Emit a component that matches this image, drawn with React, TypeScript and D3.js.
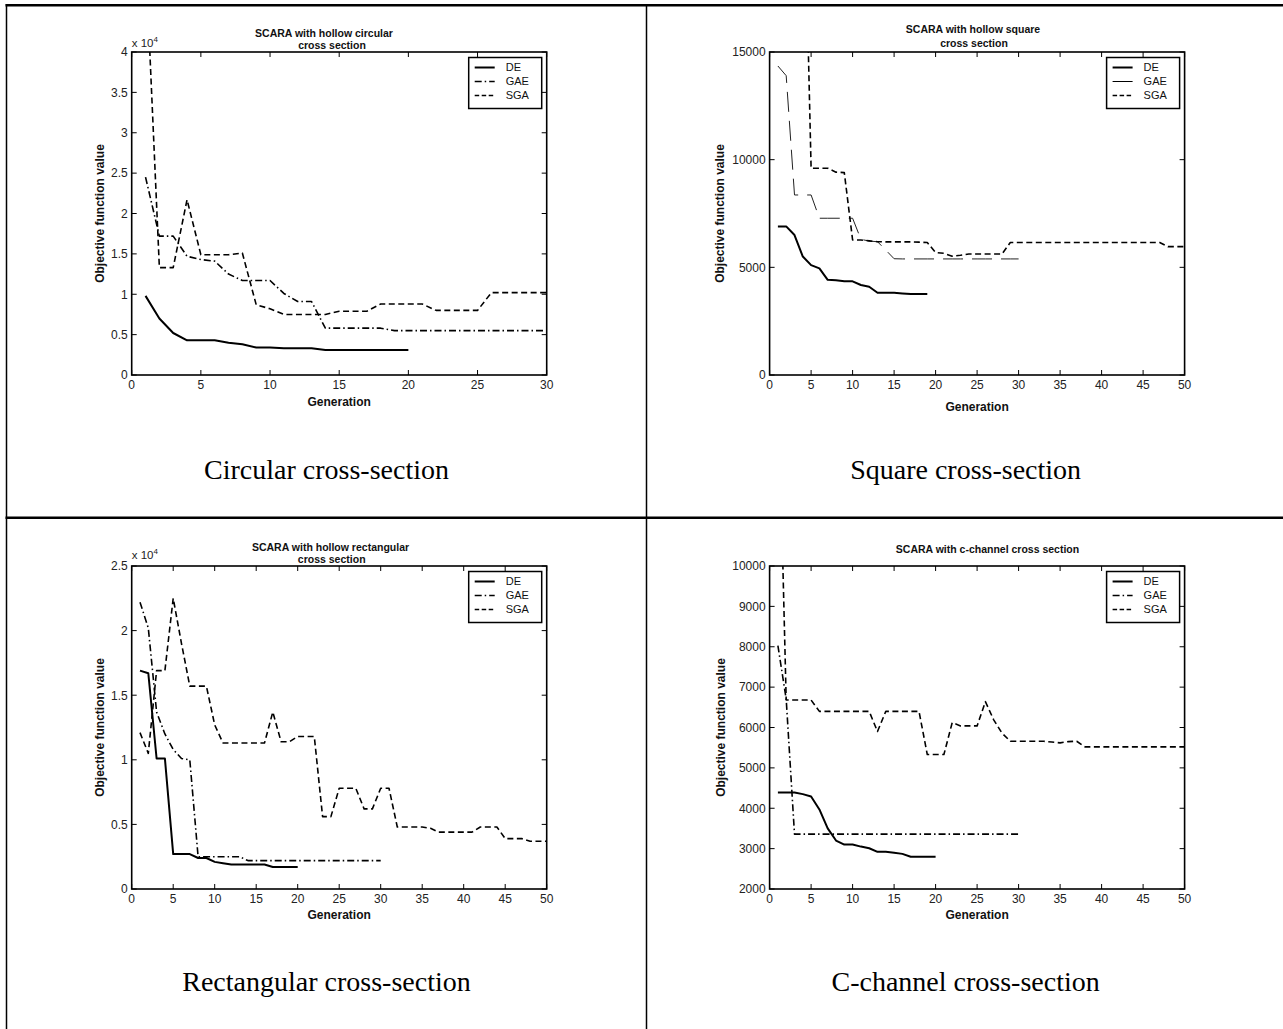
import React from "react";
import * as d3 from "d3";

const W = 1283;
const H = 1029;
const SANS = "'Liberation Sans', Arial, sans-serif";
const SERIF = "'Liberation Serif', 'Times New Roman', serif";

// circular cross section (values x 10^4)
const circDE = [0.98, 0.7, 0.52, 0.43, 0.43, 0.43, 0.4, 0.38, 0.34, 0.34, 0.33, 0.33, 0.33, 0.31, 0.31, 0.31, 0.31, 0.31, 0.31, 0.31];
const circGAE = [2.45, 1.72, 1.72, 1.47, 1.43, 1.41, 1.25, 1.17, 1.17, 1.17, 1.01, 0.91, 0.91, 0.58, 0.58, 0.58, 0.58, 0.58, 0.55, 0.55,
  0.55, 0.55, 0.55, 0.55, 0.55, 0.55, 0.55, 0.55, 0.55, 0.55];
const circSGA = [5.2, 1.33, 1.33, 2.17, 1.49, 1.49, 1.49, 1.51, 0.87, 0.82, 0.75, 0.75, 0.75, 0.75, 0.79, 0.79, 0.79, 0.88, 0.88, 0.88,
  0.88, 0.8, 0.8, 0.8, 0.8, 1.02, 1.02, 1.02, 1.02, 1.02];

// square cross section
const sqDE = [6900, 6900, 6500, 5500, 5100, 4950, 4420, 4400, 4350, 4350, 4180, 4100, 3820, 3820, 3820, 3790, 3760, 3760, 3760];
const sqGAE = [14350, 13900, 8360, 8360, 8360, 7280, 7280, 7280, 7280, 7280, 6300, 6220, 6190, 5800, 5400, 5390, 5390, 5390, 5390, 5390,
  5390, 5390, 5390, 5390, 5390, 5390, 5390, 5390, 5390, 5390];
const sqSGA = [26000, 26000, 26000, 26000, 9600, 9600, 9600, 9420, 9400, 6270, 6270, 6230, 6190, 6180, 6180, 6180, 6180, 6170, 6150, 5690,
  5650, 5520, 5560, 5620, 5620, 5620, 5620, 5620, 6150, 6150, 6150, 6150, 6150, 6150, 6150, 6150, 6150, 6150, 6150, 6150,
  6150, 6150, 6150, 6150, 6150, 6150, 6150, 5960, 5960, 5960];

// rectangular cross section (values x 10^4)
const rectDE = [1.69, 1.67, 1.01, 1.01, 0.27, 0.27, 0.27, 0.24, 0.24, 0.21, 0.2, 0.19, 0.19, 0.19, 0.19, 0.19, 0.17, 0.17, 0.17, 0.17];
const rectGAE = [2.22, 2.02, 1.37, 1.2, 1.08, 1.01, 1.0, 0.25, 0.25, 0.25, 0.25, 0.25, 0.25, 0.22, 0.22, 0.22, 0.22, 0.22, 0.22, 0.22,
  0.22, 0.22, 0.22, 0.22, 0.22, 0.22, 0.22, 0.22, 0.22, 0.22];
const rectSGA = [1.21, 1.05, 1.69, 1.69, 2.25, 1.9, 1.57, 1.57, 1.57, 1.27, 1.13, 1.13, 1.13, 1.13, 1.13, 1.13, 1.37, 1.14, 1.14, 1.18,
  1.18, 1.18, 0.56, 0.56, 0.78, 0.78, 0.78, 0.62, 0.62, 0.78, 0.78, 0.48, 0.48, 0.48, 0.48, 0.47, 0.44, 0.44, 0.44, 0.44,
  0.44, 0.48, 0.48, 0.48, 0.39, 0.39, 0.39, 0.37, 0.37, 0.37];

// c-channel cross section
const chDE = [4390, 4390, 4390, 4350, 4290, 3970, 3500, 3200, 3100, 3100, 3050, 3010, 2920, 2920, 2900, 2870, 2800, 2800, 2800, 2800];
const chGAE = [8030, 6700, 3360, 3360, 3360, 3360, 3360, 3360, 3360, 3360, 3360, 3360, 3360, 3360, 3360, 3360, 3360, 3360, 3360, 3360,
  3360, 3360, 3360, 3360, 3360, 3360, 3360, 3360, 3360, 3360];
const chSGA = [15000, 6680, 6680, 6680, 6680, 6400, 6400, 6400, 6400, 6400, 6400, 6400, 5900, 6400, 6400, 6400, 6400, 6400, 5330, 5330,
  5330, 6120, 6040, 6040, 6040, 6640, 6190, 5860, 5660, 5660, 5660, 5660, 5660, 5640, 5620, 5650, 5660, 5520, 5520, 5520,
  5520, 5520, 5520, 5520, 5520, 5520, 5520, 5520, 5520, 5520];

const captions = ["Circular cross-section", "Square cross-section", "Rectangular cross-section", "C-channel cross-section"];

const DASHED = "6,3.5";
const DASHDOT = "7,3,1.5,3";

const makeSeries = (de, gae, sga, gaeDash = DASHDOT, gaeWidth = 1.6, gaeLegend = DASHDOT) => [
  { name: "DE", values: de, dash: "none", width: 2, color: "#000", legendDash: "none" },
  { name: "GAE", values: gae, dash: gaeDash, width: gaeWidth, color: gaeWidth < 1.5 ? "#222" : "#000", legendDash: gaeLegend },
  { name: "SGA", values: sga, dash: DASHED, width: 1.6, color: "#000", legendDash: "4.5,2.5" },
];

const panels = [
  {
    id: "p1", left: 131.7, top: 52, xMax: 30, yDomain: [0, 4], yTicks: d3.range(0, 4.01, 0.5),
    title: [{ t: "SCARA with hollow circular", x: 324, y: 37 }, { t: "cross section", x: 332, y: 49 }],
    exp: true, expY: 46.5, genY: 406, ylabX: 100,
    series: makeSeries(circDE, circGAE, circSGA),
  },
  {
    id: "p2", left: 769.6, top: 52, xMax: 50, yDomain: [0, 15000], yTicks: [0, 5000, 10000, 15000],
    title: [{ t: "SCARA with hollow square", x: 973, y: 33 }, { t: "cross section", x: 974, y: 47 }],
    exp: false, genY: 411, ylabX: 720,
    series: makeSeries(sqDE, sqGAE, sqSGA, "20,9", 1, "none"),
  },
  {
    id: "p3", left: 131.7, top: 566, xMax: 50, yDomain: [0, 2.5], yTicks: d3.range(0, 2.51, 0.5),
    title: [{ t: "SCARA with hollow rectangular", x: 330.5, y: 551 }, { t: "cross section", x: 331.7, y: 563 }],
    exp: true, expY: 559, genY: 919, ylabX: 100,
    series: makeSeries(rectDE, rectGAE, rectSGA),
  },
  {
    id: "p4", left: 769.6, top: 566, xMax: 50, yDomain: [2000, 10000], yTicks: d3.range(2000, 10001, 1000),
    title: [{ t: "SCARA with c-channel cross section", x: 987.5, y: 553 }],
    exp: false, genY: 919, ylabX: 721,
    series: makeSeries(chDE, chGAE, chSGA),
  },
];

const PW = 415;
const PH = 323;

function Panel({ cfg }) {
  const x = d3.scaleLinear().domain([0, cfg.xMax]).range([cfg.left, cfg.left + PW]);
  const y = d3.scaleLinear().domain(cfg.yDomain).range([cfg.top + PH, cfg.top]);
  const xTicks = d3.range(0, cfg.xMax + 1, 5);
  const line = d3
    .line<number>()
    .x((d, i) => x(i + 1))
    .y(d => y(d));
  const bottom = cfg.top + PH;
  const right = cfg.left + PW;
  const tick = 5;
  const lg = { x: right - 78, y: cfg.top + 5.5, w: 73, h: 51 };

  return (
    <g>
      <defs>
        <clipPath id={"clip-" + cfg.id}>
          <rect x={cfg.left} y={cfg.top} width={PW} height={PH} />
        </clipPath>
      </defs>

      <g clipPath={`url(#clip-${cfg.id})`}>
        {cfg.series.map(s => (
          <path
            key={s.name}
            d={line(s.values)}
            fill="none"
            stroke={s.color}
            strokeWidth={s.width}
            strokeDasharray={s.dash}
            strokeLinejoin="round"
          />
        ))}
      </g>

      {/* ticks on all four sides, pointing inward */}
      {xTicks.map(t => (
        <g key={"x" + t}>
          <line x1={x(t)} x2={x(t)} y1={bottom} y2={bottom - tick} stroke="#000" />
          <line x1={x(t)} x2={x(t)} y1={cfg.top} y2={cfg.top + tick} stroke="#000" />
          <text x={x(t)} y={bottom + 13.5} textAnchor="middle" fontSize={12} fontFamily={SANS} fill="#222">
            {t}
          </text>
        </g>
      ))}
      {cfg.yTicks.map(t => (
        <g key={"y" + t}>
          <line x1={cfg.left} x2={cfg.left + tick} y1={y(t)} y2={y(t)} stroke="#000" />
          <line x1={right} x2={right - tick} y1={y(t)} y2={y(t)} stroke="#000" />
          <text x={cfg.left - 4} y={y(t)} dy="0.36em" textAnchor="end" fontSize={12} fontFamily={SANS} fill="#222">
            {String(t)}
          </text>
        </g>
      ))}

      <rect x={cfg.left} y={cfg.top} width={PW} height={PH} fill="none" stroke="#000" strokeWidth={1.6} />

      {cfg.exp && (
        <text x={cfg.left} y={cfg.expY} fontSize={11.5} fontFamily={SANS} fill="#222">
          x 10<tspan dy={-5} fontSize={8}>4</tspan>
        </text>
      )}

      {cfg.title.map(l => (
        <text key={l.t} x={l.x} y={l.y} textAnchor="middle" fontSize={10.5} fontWeight="bold" fontFamily={SANS} fill="#111">
          {l.t}
        </text>
      ))}

      <text x={(cfg.left + right) / 2} y={cfg.genY} textAnchor="middle" fontSize={12} fontWeight="bold" fontFamily={SANS} fill="#111">
        Generation
      </text>
      <text
        transform={`translate(${cfg.ylabX},${cfg.top + PH / 2}) rotate(-90)`}
        dy="0.36em"
        textAnchor="middle"
        fontSize={12}
        fontWeight="bold"
        fontFamily={SANS}
        fill="#111"
      >
        Objective function value
      </text>

      <rect x={lg.x} y={lg.y} width={lg.w} height={lg.h} fill="#fff" stroke="#000" strokeWidth={1.5} />
      {cfg.series.map((s, i) => {
        const ly = lg.y + 10 + i * 14;
        return (
          <g key={"lg" + s.name}>
            <line
              x1={lg.x + 6}
              x2={lg.x + 26}
              y1={ly}
              y2={ly}
              stroke="#000"
              strokeWidth={s.name === "DE" ? 2 : s.width < 1.5 ? 1 : 1.5}
              strokeDasharray={s.legendDash}
            />
            <text x={lg.x + 37} y={ly} dy="0.36em" fontSize={11} fontFamily={SANS} fill="#111">
              {s.name}
            </text>
          </g>
        );
      })}
    </g>
  );
}

export default function App() {
  const cells = [
    { cx: 326.5, top: 5.3 },
    { cx: 965.6, top: 5.3 },
    { cx: 326.5, top: 517.7 },
    { cx: 965.6, top: 517.7 },
  ];
  return (
    <svg width={W} height={H} style={{ position: "absolute", left: 0, top: 0, background: "#fff" }}>
      <rect x={0} y={0} width={W} height={H} fill="#fff" />
      {/* table grid */}
      <line x1={5.5} x2={1290} y1={5.3} y2={5.3} stroke="#000" strokeWidth={2.5} />
      <line x1={5.5} x2={1290} y1={517.7} y2={517.7} stroke="#000" strokeWidth={2.5} />
      <line x1={6.5} x2={6.5} y1={4} y2={1040} stroke="#000" strokeWidth={1.5} />
      <line x1={646.5} x2={646.5} y1={4} y2={1040} stroke="#000" strokeWidth={1.5} />
      <line x1={1284.7} x2={1284.7} y1={4} y2={1040} stroke="#000" strokeWidth={1.5} />

      {panels.map(p => (
        <Panel key={p.id} cfg={p} />
      ))}

      {captions.map((c, i) => (
        <text key={c} x={cells[i].cx} y={cells[i].top + 473.7} textAnchor="middle" fontSize={28} fontFamily={SERIF} fill="#000">
          {c}
        </text>
      ))}
    </svg>
  );
}
